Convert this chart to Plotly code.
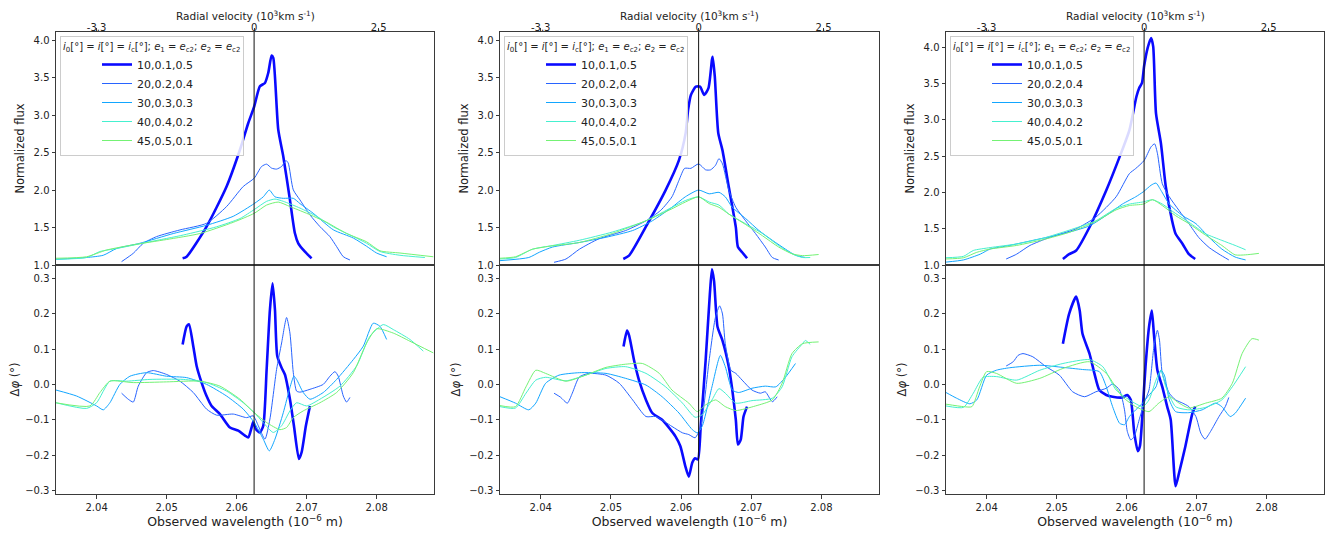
import plotly.graph_objects as go

# ---------------- data ----------------
series_names = ["10,0.1,0.5", "20,0.2,0.4", "30,0.3,0.3", "40,0.4,0.2", "45,0.5,0.1"]
series_colors = ["#0a0aff", "#2864ff", "#12a6ff", "#45f0cf", "#74f274"]
series_widths = [2.6, 1.0, 1.0, 1.0, 1.0]

wl_ticks = [2.04, 2.05, 2.06, 2.07, 2.08]
vel_tick_pos = [2.0400, 2.0625, 2.0803]
vel_tick_text = ["-3.3", "0", "2.5"]
line_centre = 2.0625
x_range = [2.0342, 2.0882]
flux_ranges = [[1.0, 4.11], [1.0, 4.11], [1.0, 4.212]]
dphi_range = [-0.31, 0.3375]

# ----- panel 1 : flux -----
p1_flux_wl_10 = [2.05229, 2.05286, 2.05571, 2.05857, 2.06048, 2.06167, 2.06252, 2.06333, 2.06405, 2.06452, 2.065, 2.06524, 2.06595, 2.06667, 2.06762, 2.06833, 2.06881, 2.06976, 2.07071]
p1_flux_10 = [1.089, 1.111, 1.513, 2.048, 2.538, 2.895, 3.118, 3.385, 3.43, 3.563, 3.795, 3.764, 2.806, 2.449, 1.869, 1.423, 1.29, 1.178, 1.089]
p1_flux_wl_20 = [2.04357, 2.04524, 2.04667, 2.04857, 2.0519, 2.05571, 2.05857, 2.06095, 2.06252, 2.06357, 2.06429, 2.065, 2.06571, 2.06643, 2.06705, 2.06738, 2.0681, 2.06905, 2.07048, 2.0719, 2.07333, 2.07429, 2.07524, 2.07619]
p1_flux_20 = [1.045, 1.156, 1.29, 1.379, 1.468, 1.557, 1.78, 2.048, 2.159, 2.315, 2.346, 2.293, 2.28, 2.315, 2.395, 2.36, 2.003, 1.869, 1.669, 1.513, 1.379, 1.245, 1.111, 1.067]
p1_flux_wl_30 = [2.03419, 2.03857, 2.04095, 2.04286, 2.04619, 2.05095, 2.05571, 2.05952, 2.06252, 2.06381, 2.06467, 2.06548, 2.06667, 2.0681, 2.06905, 2.07095, 2.07381, 2.07667, 2.07857, 2.08, 2.08143]
p1_flux_30 = [1.076, 1.10, 1.13, 1.22, 1.29, 1.42, 1.53, 1.65, 1.82, 1.91, 2.0, 1.91, 1.89, 1.89, 1.82, 1.69, 1.47, 1.36, 1.25, 1.16, 1.11]
p1_flux_wl_40 = [2.03419, 2.03857, 2.04048, 2.04286, 2.04762, 2.05238, 2.05714, 2.06048, 2.06252, 2.06429, 2.06548, 2.06667, 2.06905, 2.07143, 2.07381, 2.07667, 2.07857, 2.08048, 2.08333, 2.0869]
p1_flux_40 = [1.076, 1.10, 1.18, 1.22, 1.31, 1.40, 1.51, 1.62, 1.74, 1.85, 1.88, 1.85, 1.76, 1.65, 1.51, 1.38, 1.29, 1.18, 1.13, 1.10]
p1_flux_wl_45 = [2.03419, 2.03857, 2.04143, 2.04524, 2.05, 2.05476, 2.05952, 2.06252, 2.06429, 2.06595, 2.06762, 2.07, 2.07286, 2.07571, 2.07857, 2.08048, 2.08333, 2.0881]
p1_flux_45 = [1.09, 1.11, 1.20, 1.27, 1.34, 1.42, 1.57, 1.69, 1.80, 1.84, 1.78, 1.69, 1.57, 1.42, 1.31, 1.19, 1.16, 1.11]

# ----- panel 1 : differential phase -----
p1_dphi_wl_10 = [2.05229, 2.05286, 2.05319, 2.05381, 2.05429, 2.055, 2.05571, 2.05643, 2.05762, 2.05905, 2.06024, 2.0612, 2.06167, 2.06214, 2.06238, 2.06276, 2.06333, 2.06381, 2.06429, 2.06476, 2.06514, 2.06548, 2.06581, 2.06643, 2.0669, 2.06762, 2.06819, 2.0689, 2.06929, 2.0699, 2.07048]
p1_dphi_10 = [0.1125, 0.164, 0.17, 0.108, 0.052, 0.005, -0.033, -0.061, -0.084, -0.122, -0.131, -0.145, -0.15, -0.122, -0.106, -0.127, -0.136, -0.117, 0.042, 0.211, 0.286, 0.211, 0.08, 0.047, 0.028, -0.042, -0.117, -0.211, -0.192, -0.117, -0.061]
p1_dphi_wl_20 = [2.04357, 2.04452, 2.04524, 2.04595, 2.04714, 2.0481, 2.05, 2.0519, 2.05381, 2.05571, 2.05714, 2.05952, 2.06143, 2.06238, 2.0631, 2.06405, 2.06476, 2.06571, 2.06643, 2.06714, 2.06762, 2.0681, 2.06857, 2.06905, 2.07048, 2.07238, 2.07333, 2.07405, 2.07452, 2.07524, 2.07571, 2.07619]
p1_dphi_20 = [-0.025, -0.042, -0.05, -0.005, 0.033, 0.039, 0.028, 0.009, -0.023, -0.07, -0.087, -0.084, -0.094, -0.089, -0.117, -0.155, -0.098, 0.042, 0.117, 0.189, 0.145, 0.033, -0.019, -0.022, -0.014, 0.0, 0.023, 0.036, 0.023, -0.033, -0.05, -0.037]
p1_dphi_wl_30 = [2.03419, 2.03714, 2.04, 2.04095, 2.0419, 2.04333, 2.04476, 2.04714, 2.05, 2.05286, 2.05571, 2.05857, 2.06095, 2.06252, 2.06381, 2.06467, 2.06548, 2.06667, 2.06762, 2.06819, 2.06857, 2.06952, 2.07048, 2.07238, 2.07429, 2.07667, 2.0781, 2.07952, 2.08048, 2.08143]
p1_dphi_30 = [-0.016, -0.033, -0.061, -0.072, -0.052, 0.0, 0.023, 0.033, 0.023, 0.019, 0.0, -0.033, -0.07, -0.108, -0.155, -0.188, -0.155, -0.08, -0.009, 0.023, 0.014, -0.023, -0.042, -0.023, 0.014, 0.07, 0.108, 0.173, 0.164, 0.127]
p1_dphi_wl_40 = [2.03419, 2.03857, 2.04, 2.0419, 2.04429, 2.04762, 2.05238, 2.05571, 2.05857, 2.06095, 2.06252, 2.06381, 2.06524, 2.06643, 2.06762, 2.06857, 2.07, 2.0719, 2.07476, 2.07714, 2.07905, 2.08095, 2.08238, 2.08476, 2.08667]
p1_dphi_40 = [-0.052, -0.068, -0.052, 0.009, 0.009, 0.014, 0.014, 0.005, -0.019, -0.052, -0.08, -0.108, -0.136, -0.117, -0.075, -0.052, -0.061, -0.042, -0.005, 0.052, 0.136, 0.169, 0.155, 0.127, 0.094]
p1_dphi_wl_45 = [2.03419, 2.03905, 2.04048, 2.0419, 2.04524, 2.05, 2.05476, 2.05762, 2.06048, 2.06252, 2.06429, 2.06619, 2.06714, 2.0681, 2.06952, 2.0719, 2.07429, 2.07667, 2.07857, 2.08, 2.08238, 2.08476, 2.0881]
p1_dphi_45 = [-0.052, -0.061, -0.023, 0.009, 0.005, 0.007, 0.009, -0.005, -0.042, -0.08, -0.108, -0.128, -0.122, -0.094, -0.075, -0.052, -0.023, 0.033, 0.117, 0.157, 0.145, 0.122, 0.089]

# ----- panel 2 : flux -----
p2_flux_wl_10 = [2.05177, 2.05258, 2.05495, 2.0578, 2.0597, 2.06065, 2.061, 2.0614, 2.0621, 2.0627, 2.0633, 2.0639, 2.0644, 2.0645, 2.0648, 2.0653, 2.0659, 2.0668, 2.0678, 2.0681, 2.0687, 2.0694]
p2_flux_10 = [1.08, 1.125, 1.505, 2.0, 2.4, 2.76, 3.07, 3.27, 3.38, 3.38, 3.27, 3.36, 3.74, 3.78, 3.52, 2.76, 2.53, 2.04, 1.505, 1.24, 1.17, 1.09]
p2_flux_wl_20 = [2.0419, 2.0436, 2.0455, 2.0483, 2.0521, 2.055, 2.0571, 2.0587, 2.0597, 2.0605, 2.0614, 2.0625, 2.0635, 2.0642, 2.0649, 2.0654, 2.0659, 2.0668, 2.0678, 2.0692, 2.0706, 2.072, 2.073, 2.0739]
p2_flux_20 = [1.036, 1.08, 1.21, 1.35, 1.46, 1.59, 1.73, 1.91, 2.13, 2.29, 2.29, 2.35, 2.27, 2.27, 2.33, 2.42, 2.35, 2.0, 1.77, 1.59, 1.42, 1.24, 1.10, 1.067]
p2_flux_wl_30 = [2.0342, 2.0383, 2.0398, 2.0417, 2.0455, 2.0493, 2.0531, 2.0559, 2.0587, 2.0606, 2.0625, 2.064, 2.0654, 2.0663, 2.0673, 2.0692, 2.0711, 2.073, 2.0749, 2.0763, 2.0777]
p2_flux_30 = [1.058, 1.10, 1.17, 1.24, 1.30, 1.37, 1.46, 1.59, 1.77, 1.91, 2.0, 1.95, 1.97, 1.91, 1.77, 1.62, 1.46, 1.33, 1.21, 1.13, 1.10]
p2_flux_wl_40 = [2.0342, 2.0364, 2.0388, 2.0417, 2.0455, 2.0502, 2.055, 2.0587, 2.0606, 2.0625, 2.064, 2.0654, 2.0668, 2.0692, 2.0716, 2.0739, 2.0758, 2.0773, 2.0784]
p2_flux_40 = [1.08, 1.10, 1.21, 1.26, 1.33, 1.44, 1.59, 1.77, 1.86, 1.91, 1.84, 1.80, 1.68, 1.55, 1.42, 1.26, 1.15, 1.10, 1.10]
p2_flux_wl_45 = [2.0342, 2.0364, 2.0388, 2.0412, 2.0455, 2.0502, 2.055, 2.0587, 2.0606, 2.0625, 2.064, 2.0654, 2.0668, 2.0692, 2.0716, 2.0739, 2.0758, 2.0773, 2.0796]
p2_flux_45 = [1.09, 1.11, 1.21, 1.25, 1.30, 1.42, 1.59, 1.75, 1.84, 1.91, 1.82, 1.77, 1.68, 1.54, 1.39, 1.24, 1.15, 1.125, 1.14]

# ----- panel 2 : differential phase -----
p2_dphi_wl_10 = [2.0518, 2.0523, 2.0526, 2.0533, 2.054, 2.055, 2.0559, 2.0573, 2.0583, 2.0592, 2.0599, 2.0606, 2.0611, 2.0616, 2.062, 2.0624, 2.0628, 2.0635, 2.0641, 2.0644, 2.0647, 2.0652, 2.0659, 2.0668, 2.0673, 2.0678, 2.0681, 2.0685, 2.0689, 2.0694]
p2_dphi_10 = [0.107, 0.152, 0.138, 0.068, 0.012, -0.044, -0.081, -0.1, -0.123, -0.147, -0.175, -0.231, -0.261, -0.221, -0.209, -0.212, -0.119, 0.068, 0.255, 0.325, 0.292, 0.162, 0.124, 0.05, -0.016, -0.1, -0.17, -0.156, -0.091, -0.063]
p2_dphi_wl_20 = [2.0419, 2.0428, 2.0438, 2.0445, 2.0455, 2.0469, 2.0493, 2.0512, 2.0531, 2.055, 2.0564, 2.0587, 2.0602, 2.0611, 2.062, 2.0628, 2.064, 2.0649, 2.0655, 2.0659, 2.0663, 2.0671, 2.0678, 2.0687, 2.0701, 2.0713, 2.072, 2.073, 2.0737]
p2_dphi_20 = [-0.025, -0.036, -0.053, -0.025, 0.021, 0.031, 0.026, 0.003, -0.044, -0.091, -0.091, -0.119, -0.137, -0.142, -0.151, -0.119, 0.068, 0.19, 0.222, 0.199, 0.115, 0.04, 0.031, 0.012, -0.016, -0.025, -0.021, -0.049, -0.035]
p2_dphi_wl_30 = [2.0342, 2.0364, 2.0383, 2.0393, 2.0407, 2.0426, 2.0455, 2.0493, 2.0521, 2.055, 2.0573, 2.0597, 2.0616, 2.0623, 2.063, 2.0644, 2.0656, 2.0663, 2.0673, 2.0682, 2.0701, 2.072, 2.0735, 2.0749, 2.0763]
p2_dphi_30 = [-0.035, -0.053, -0.072, -0.053, 0.003, 0.026, 0.033, 0.031, 0.017, -0.002, -0.035, -0.081, -0.128, -0.137, -0.119, -0.007, 0.082, 0.05, -0.016, -0.023, -0.011, -0.005, -0.007, 0.021, 0.059]
p2_dphi_wl_40 = [2.0342, 2.0364, 2.0379, 2.0393, 2.0407, 2.0436, 2.0464, 2.0493, 2.0521, 2.055, 2.0578, 2.0602, 2.062, 2.063, 2.0644, 2.0654, 2.0663, 2.0678, 2.0701, 2.073, 2.0744, 2.0758, 2.0773, 2.0777, 2.0784]
p2_dphi_40 = [-0.063, -0.067, -0.025, 0.012, 0.02, 0.01, 0.026, 0.045, 0.05, 0.031, -0.007, -0.053, -0.093, -0.086, -0.044, -0.012, -0.025, -0.053, -0.046, -0.039, -0.007, 0.078, 0.115, 0.124, 0.113]
p2_dphi_wl_45 = [2.0342, 2.0364, 2.0379, 2.0393, 2.0407, 2.0436, 2.0464, 2.0493, 2.0521, 2.0545, 2.0569, 2.0587, 2.0611, 2.0623, 2.0635, 2.0649, 2.0663, 2.0678, 2.0706, 2.073, 2.0744, 2.0758, 2.0773, 2.0796]
p2_dphi_45 = [-0.06, -0.063, -0.007, 0.04, 0.031, 0.009, 0.026, 0.048, 0.057, 0.059, 0.031, -0.016, -0.053, -0.077, -0.058, -0.044, -0.063, -0.074, -0.061, -0.044, 0.003, 0.087, 0.115, 0.12]

# ----- panel 3 : flux -----
p3_flux_wl_10 = [2.0509, 2.0518, 2.0528, 2.0547, 2.0571, 2.059, 2.0604, 2.0614, 2.0618, 2.0622, 2.0625, 2.063, 2.0635, 2.0638, 2.0642, 2.0649, 2.0656, 2.0665, 2.067, 2.068, 2.0689, 2.0698]
p3_flux_10 = [1.083, 1.15, 1.2, 1.52, 2.03, 2.49, 2.86, 3.32, 3.44, 3.51, 3.74, 3.99, 4.13, 4.01, 3.09, 2.68, 2.08, 1.61, 1.43, 1.29, 1.15, 1.083]
p3_flux_wl_20 = [2.0428, 2.0443, 2.0462, 2.049, 2.0528, 2.0556, 2.0585, 2.0604, 2.0613, 2.0625, 2.0635, 2.064, 2.0644, 2.0651, 2.0661, 2.0675, 2.0689, 2.0703, 2.0718, 2.0732, 2.0746]
p3_flux_20 = [1.083, 1.15, 1.27, 1.38, 1.5, 1.66, 1.94, 2.26, 2.33, 2.44, 2.63, 2.67, 2.54, 2.12, 1.94, 1.75, 1.57, 1.38, 1.24, 1.15, 1.07]
p3_flux_wl_30 = [2.0342, 2.0367, 2.0391, 2.0405, 2.0433, 2.0471, 2.0509, 2.0547, 2.0575, 2.0594, 2.0613, 2.0624, 2.0635, 2.0642, 2.0649, 2.0661, 2.068, 2.0699, 2.0718, 2.0736, 2.0755, 2.077]
p3_flux_30 = [1.04, 1.07, 1.15, 1.22, 1.27, 1.35, 1.43, 1.54, 1.71, 1.84, 1.94, 2.01, 2.1, 2.13, 2.03, 1.84, 1.68, 1.57, 1.38, 1.22, 1.11, 1.07]
p3_flux_wl_40 = [2.0342, 2.0367, 2.0381, 2.0405, 2.0443, 2.0481, 2.0518, 2.0556, 2.0585, 2.0604, 2.0624, 2.0637, 2.0651, 2.067, 2.0689, 2.0713, 2.0736, 2.0755, 2.077]
p3_flux_40 = [1.1, 1.12, 1.2, 1.24, 1.29, 1.37, 1.48, 1.61, 1.78, 1.84, 1.87, 1.9, 1.84, 1.71, 1.59, 1.43, 1.34, 1.27, 1.21]
p3_flux_wl_45 = [2.0342, 2.0367, 2.0386, 2.0405, 2.0443, 2.0481, 2.0518, 2.0556, 2.0585, 2.0604, 2.0624, 2.0637, 2.0651, 2.067, 2.0689, 2.0713, 2.0736, 2.0755, 2.077, 2.0789]
p3_flux_45 = [1.083, 1.1, 1.175, 1.22, 1.27, 1.35, 1.45, 1.6, 1.76, 1.82, 1.84, 1.9, 1.82, 1.68, 1.57, 1.41, 1.27, 1.14, 1.14, 1.16]

# ----- panel 3 : differential phase -----
p3_dphi_wl_10 = [2.0509, 2.0518, 2.0528, 2.0533, 2.0537, 2.0547, 2.0554, 2.0561, 2.0571, 2.058, 2.0594, 2.0601, 2.0606, 2.0611, 2.0616, 2.0619, 2.0623, 2.0627, 2.0632, 2.0636, 2.0639, 2.0644, 2.0651, 2.0658, 2.0663, 2.067, 2.0675, 2.0684, 2.0694, 2.0698]
p3_dphi_10 = [0.115, 0.2, 0.248, 0.209, 0.143, 0.087, 0.031, -0.016, -0.03, -0.035, -0.037, -0.03, -0.044, -0.138, -0.189, -0.175, -0.072, 0.05, 0.162, 0.209, 0.143, 0.04, -0.007, -0.063, -0.1, -0.288, -0.25, -0.175, -0.082, -0.063]
p3_dphi_wl_20 = [2.0428, 2.0438, 2.0445, 2.0452, 2.0466, 2.0485, 2.0504, 2.0523, 2.054, 2.0556, 2.0571, 2.058, 2.059, 2.0597, 2.0601, 2.0606, 2.0611, 2.0618, 2.0625, 2.0632, 2.0639, 2.0644, 2.0647, 2.0651, 2.0661, 2.067, 2.068, 2.0689, 2.0699, 2.0706, 2.0712, 2.072, 2.0732, 2.0741, 2.0746]
p3_dphi_20 = [0.052, 0.064, 0.082, 0.087, 0.078, 0.05, 0.026, -0.021, -0.035, -0.021, -0.011, 0.001, -0.016, -0.072, -0.133, -0.157, -0.147, -0.1, -0.053, -0.016, 0.106, 0.153, 0.125, 0.031, -0.025, -0.044, -0.053, -0.063, -0.091, -0.138, -0.155, -0.133, -0.091, -0.063, -0.037]
p3_dphi_wl_30 = [2.0342, 2.0357, 2.0376, 2.0386, 2.04, 2.0414, 2.0433, 2.0476, 2.0509, 2.0537, 2.0561, 2.0571, 2.058, 2.059, 2.0597, 2.0604, 2.0613, 2.0623, 2.063, 2.0642, 2.0649, 2.0654, 2.0661, 2.067, 2.0689, 2.0708, 2.0727, 2.0736, 2.0748, 2.0755, 2.077]
p3_dphi_30 = [-0.023, -0.039, -0.055, -0.044, 0.026, 0.04, 0.047, 0.054, 0.048, 0.042, 0.036, -0.007, -0.063, -0.11, -0.114, -0.091, -0.072, -0.053, -0.035, -0.007, 0.04, 0.026, -0.044, -0.077, -0.08, -0.072, -0.053, -0.063, -0.091, -0.082, -0.039]
p3_dphi_wl_40 = [2.0342, 2.0367, 2.0381, 2.0395, 2.0414, 2.0443, 2.0476, 2.0509, 2.0547, 2.0566, 2.0585, 2.0604, 2.0623, 2.0632, 2.0642, 2.0649, 2.0656, 2.067, 2.0689, 2.0713, 2.0736, 2.0751, 2.077]
p3_dphi_40 = [-0.061, -0.065, -0.025, 0.02, 0.022, 0.012, 0.04, 0.059, 0.07, 0.05, -0.016, -0.044, -0.063, -0.044, 0.012, 0.04, -0.007, -0.063, -0.072, -0.065, -0.044, -0.007, 0.05]
p3_dphi_wl_45 = [2.0342, 2.0367, 2.0379, 2.039, 2.04, 2.0414, 2.0443, 2.0476, 2.0509, 2.0547, 2.0571, 2.0594, 2.0613, 2.0632, 2.0646, 2.0661, 2.0675, 2.0689, 2.0713, 2.0736, 2.0751, 2.0765, 2.0779, 2.0789]
p3_dphi_45 = [-0.056, -0.063, -0.063, -0.007, 0.036, 0.031, 0.003, 0.017, 0.045, 0.064, 0.031, -0.035, -0.063, -0.077, -0.053, -0.035, -0.053, -0.067, -0.053, -0.039, 0.003, 0.087, 0.129, 0.125]

panels = [
    {
        "flux": [(p1_flux_wl_10, p1_flux_10), (p1_flux_wl_20, p1_flux_20), (p1_flux_wl_30, p1_flux_30),
                 (p1_flux_wl_40, p1_flux_40), (p1_flux_wl_45, p1_flux_45)],
        "dphi": [(p1_dphi_wl_10, p1_dphi_10), (p1_dphi_wl_20, p1_dphi_20), (p1_dphi_wl_30, p1_dphi_30),
                 (p1_dphi_wl_40, p1_dphi_40), (p1_dphi_wl_45, p1_dphi_45)],
    },
    {
        "flux": [(p2_flux_wl_10, p2_flux_10), (p2_flux_wl_20, p2_flux_20), (p2_flux_wl_30, p2_flux_30),
                 (p2_flux_wl_40, p2_flux_40), (p2_flux_wl_45, p2_flux_45)],
        "dphi": [(p2_dphi_wl_10, p2_dphi_10), (p2_dphi_wl_20, p2_dphi_20), (p2_dphi_wl_30, p2_dphi_30),
                 (p2_dphi_wl_40, p2_dphi_40), (p2_dphi_wl_45, p2_dphi_45)],
    },
    {
        "flux": [(p3_flux_wl_10, p3_flux_10), (p3_flux_wl_20, p3_flux_20), (p3_flux_wl_30, p3_flux_30),
                 (p3_flux_wl_40, p3_flux_40), (p3_flux_wl_45, p3_flux_45)],
        "dphi": [(p3_dphi_wl_10, p3_dphi_10), (p3_dphi_wl_20, p3_dphi_20), (p3_dphi_wl_30, p3_dphi_30),
                 (p3_dphi_wl_40, p3_dphi_40), (p3_dphi_wl_45, p3_dphi_45)],
    },
]

# ---------------- layout ----------------
# The page body has an 8px default margin, so pixel positions are shifted by it.
W, H = 1341, 540
OFF = 8
x_px = [(56 - OFF, 434 - OFF), (500 - OFF, 879 - OFF), (946 - OFF, 1324 - OFF)]
top_px = (32 - OFF, 265 - OFF)
bot_px = (265 - OFF, 494 - OFF)

def ydom(px):
    return [(H - px[1]) / H, (H - px[0]) / H]

FONT = "DejaVu Sans, Verdana, sans-serif"
AX_COL = "#3a3a3a"
TXT = "#222222"

fig = go.Figure()
layout = dict(
    width=W, height=H,
    margin=dict(l=0, r=0, t=0, b=0, autoexpand=False),
    paper_bgcolor="white", plot_bgcolor="white",
    font=dict(family=FONT, size=10, color=TXT),
    showlegend=True,
    shapes=[],
    annotations=[],
)

legend_title = ("<i>i</i><sub>0</sub>[°] = <i>i</i>[°] = <i>i</i><sub>c</sub>[°]; "
                "<i>e</i><sub>1</sub> = <i>e</i><sub>c2</sub>; <i>e</i><sub>2</sub> = <i>e</i><sub>c2</sub>")

for p, panel in enumerate(panels):
    nt = 2 * p + 1
    nb = 2 * p + 2
    xt, yt = f"x{nt}" if nt > 1 else "x", f"y{nt}" if nt > 1 else "y"
    xb, yb = f"x{nb}", f"y{nb}"
    xkey_t = "xaxis" if nt == 1 else f"xaxis{nt}"
    ykey_t = "yaxis" if nt == 1 else f"yaxis{nt}"
    xkey_b, ykey_b = f"xaxis{nb}", f"yaxis{nb}"
    leg = "legend" if p == 0 else f"legend{p + 1}"
    xd = [x_px[p][0] / W, x_px[p][1] / W]

    for i, (wl, fl) in enumerate(panel["flux"]):
        fig.add_trace(go.Scatter(
            x=wl, y=fl, mode="lines", name=series_names[i], xaxis=xt, yaxis=yt,
            line=dict(color=series_colors[i], width=series_widths[i], shape="spline", smoothing=0.6),
            legend=leg, showlegend=True, hoverinfo="skip"))
    for i, (wl, dp) in enumerate(panel["dphi"]):
        fig.add_trace(go.Scatter(
            x=wl, y=dp, mode="lines", name=series_names[i], xaxis=xb, yaxis=yb,
            line=dict(color=series_colors[i], width=series_widths[i], shape="spline", smoothing=0.6),
            showlegend=False, hoverinfo="skip"))

    common = dict(showline=True, linecolor=AX_COL, linewidth=1, mirror=True, showgrid=False,
                  zeroline=False, ticks="outside", ticklen=3.5, tickwidth=1, tickcolor=AX_COL,
                  automargin=False,
                  tickfont=dict(family=FONT, size=10, color=TXT))

    layout[xkey_t] = dict(common, domain=xd, anchor=yt, side="top", range=x_range,
                          tickmode="array", tickvals=vel_tick_pos, ticktext=vel_tick_text,
                          ticklabelstandoff=-7)
    layout[ykey_t] = dict(common, domain=ydom(top_px), anchor=xt, range=flux_ranges[p],
                          tickmode="linear", tick0=1.0, dtick=0.5, tickformat=".1f",
                          title=dict(text="Normalized flux", font=dict(size=11.5), standoff=6))
    layout[xkey_b] = dict(common, domain=xd, anchor=yb, range=x_range,
                          tickmode="array", tickvals=wl_ticks, tickformat=".2f",
                          title=dict(text="Observed wavelength (10<sup>−6</sup> m)",
                                     font=dict(size=12.5), standoff=5))
    layout[ykey_b] = dict(common, domain=ydom(bot_px), anchor=xb, range=dphi_range,
                          tickmode="linear", tick0=0.0, dtick=0.1, tickformat=".1f",
                          title=dict(text="Δ<i>φ</i> (°)", font=dict(size=11.5), standoff=6))

    # top axis title (placed explicitly above the velocity tick labels)
    layout["annotations"].append(dict(
        text="Radial velocity (10<sup>3</sup>km s<sup>-1</sup>)", xref="paper", yref="paper",
        x=(xd[0] + xd[1]) / 2, y=1.0, xanchor="center", yanchor="top", borderpad=0,
        showarrow=False, font=dict(family=FONT, size=10.5, color=TXT)))

    for xr, yr in ((xt, yt), (xb, yb)):
        layout["shapes"].append(dict(type="line", xref=xr, yref=f"{yr} domain",
                                     x0=line_centre, x1=line_centre, y0=0, y1=1,
                                     line=dict(color="#111111", width=1)))

    layout[leg] = dict(
        x=(x_px[p][0] + 4) / W, y=(H - top_px[0] - 4) / H, xanchor="left", yanchor="top",
        bgcolor="rgba(255,255,255,0.85)", bordercolor="#cccccc", borderwidth=1,
        font=dict(family=FONT, size=11, color=TXT),
        title=dict(text=legend_title, side="top", font=dict(family=FONT, size=10, color=TXT)),
        indentation=36, tracegroupgap=0, itemwidth=30,
    )

fig.update_layout(**layout)
fig.write_html("out.html")
